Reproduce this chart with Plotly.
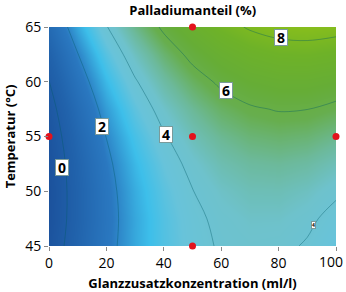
import plotly.graph_objects as go

# Data
x_conc = [0, 10, 20, 30, 40, 50, 60, 70, 80, 90, 100]          # Glanzzusatzkonzentration (ml/l)
y_temp = [45, 47.5, 50, 52.5, 55, 57.5, 60, 62.5, 65]           # Temperatur (°C)
z_pd = [
    [-0.66, 0.60, 1.67, 2.55, 3.25, 3.76, 4.08, 4.22, 4.17, 3.93, 3.50],
    [-0.80, 0.50, 1.61, 2.53, 3.27, 3.82, 4.18, 4.36, 4.35, 4.15, 3.76],
    [-0.84, 0.50, 1.65, 2.61, 3.39, 3.98, 4.38, 4.60, 4.62, 4.46, 4.12],
    [-0.79, 0.59, 1.78, 2.79, 3.60, 4.23, 4.68, 4.93, 5.00, 4.88, 4.57],
    [-0.63, 0.79, 2.02, 3.06, 3.92, 4.59, 5.07, 5.37, 5.48, 5.40, 5.13],
    [-0.38, 1.08, 2.35, 3.44, 4.33, 5.04, 5.57, 5.90, 6.05, 6.01, 5.78],
    [-0.02, 1.48, 2.79, 3.91, 4.85, 5.60, 6.16, 6.54, 6.72, 6.72, 6.54],
    [0.43, 1.97, 3.32, 4.48, 5.46, 6.25, 6.85, 7.27, 7.50, 7.54, 7.39],
    [0.98, 2.56, 3.95, 5.15, 6.17, 7.00, 7.64, 8.10, 8.37, 8.45, 8.34],
]
pts_x = [0, 50, 100, 50, 50]
pts_y = [55, 55, 55, 65, 45]
x_tickvals = [0, 20, 40, 60, 80, 100]
x_ticktext = ["0", "20", "40", "60", "80", ""]
last_x_label = "100"
y_tickvals = [45, 50, 55, 60, 65]
label_text = ["0", "2", "4", "6", "8", "4"]
label_x = [4.7, 18.4, 40.8, 61.5, 80.7, 92.3]
label_y = [52.2, 55.95, 55.2, 59.2, 64.0, 46.95]
label_small = [False, False, False, False, False, True]

FONT = "Open Sans, DejaVu Sans, sans-serif"
zmin, zmax = -0.9, 8.5
def p(z):
    return (z - zmin) / (zmax - zmin)

colorscale = [
    [0.0, "#1b519c"],
    [p(0.5), "#2163ac"],
    [p(1.8), "#2a78c0"],
    [p(2.9), "#3dbfea"],
    [p(3.6), "#68c3da"],
    [p(4.3), "#6ec2cc"],
    [p(5.0), "#6cb99a"],
    [p(5.8), "#67ae4e"],
    [p(6.5), "#66ad36"],
    [p(7.5), "#6eb228"],
    [1.0, "#88be1c"],
]

fig = go.Figure()
fig.add_trace(go.Contour(
    x=x_conc, y=y_temp, z=z_pd,
    zmin=zmin, zmax=zmax, zauto=False,
    colorscale=colorscale, showscale=False,
    contours=dict(start=0, end=8, size=2, coloring="heatmap", showlabels=False),
    line=dict(color="rgba(0,90,100,0.38)", width=1),
    hoverinfo="skip",
))
fig.add_trace(go.Scatter(
    x=pts_x, y=pts_y, mode="markers",
    marker=dict(color="#e3121c", size=7, line=dict(width=0)),
    cliponaxis=False, hoverinfo="skip",
))

for t, lx, ly, sm in zip(label_text, label_x, label_y, label_small):
    fig.add_annotation(
        x=lx, y=ly, text=f"<b>{t}</b>", showarrow=False,
        font=dict(family=FONT, size=5 if sm else 14, color="#000000"),
        bgcolor="#ffffff", bordercolor="#7a9a9a", borderwidth=1,
        borderpad=0, width=None if sm else 12, height=None if sm else 15,
    )

# last x tick label, pulled inside the page like in the reference
fig.add_annotation(
    x=x_tickvals[-1], xref="x", y=0, yref="paper", text=last_x_label, showarrow=False,
    xanchor="right", yanchor="top", xshift=9, yshift=-4,
    font=dict(family=FONT, size=14, color="#000000"),
)

fig.update_layout(
    width=346, height=292,
    margin=dict(l=49, r=10, t=27, b=46, autoexpand=False),
    paper_bgcolor="#ffffff", plot_bgcolor="#ffffff",
    showlegend=False,
    title=dict(text="<b>Palladiumanteil (%)</b>", x=0.557, xanchor="center", y=0.965, yanchor="middle",
               font=dict(family=FONT, size=13, color="#000000")),
    font=dict(family=FONT, size=13, color="#000000"),
)
fig.update_xaxes(
    range=[0, 100], tickvals=x_tickvals, ticktext=x_ticktext, showgrid=False, zeroline=False,
    ticks="outside", ticklen=4, tickcolor="#888888", showline=False,
    automargin=False,
    title=dict(text="<b>Glanzzusatzkonzentration (ml/l)</b>", standoff=9,
               font=dict(size=13)),
    tickfont=dict(size=14),
)
fig.update_yaxes(
    range=[45, 65], tickvals=y_tickvals, showgrid=False, zeroline=False,
    ticks="outside", ticklen=4, tickcolor="#888888", showline=False,
    automargin=False,
    title=dict(text="<b>Temperatur (°C)</b>", standoff=6, font=dict(size=13)),
    tickfont=dict(size=14),
)

fig.write_html("out.html")
